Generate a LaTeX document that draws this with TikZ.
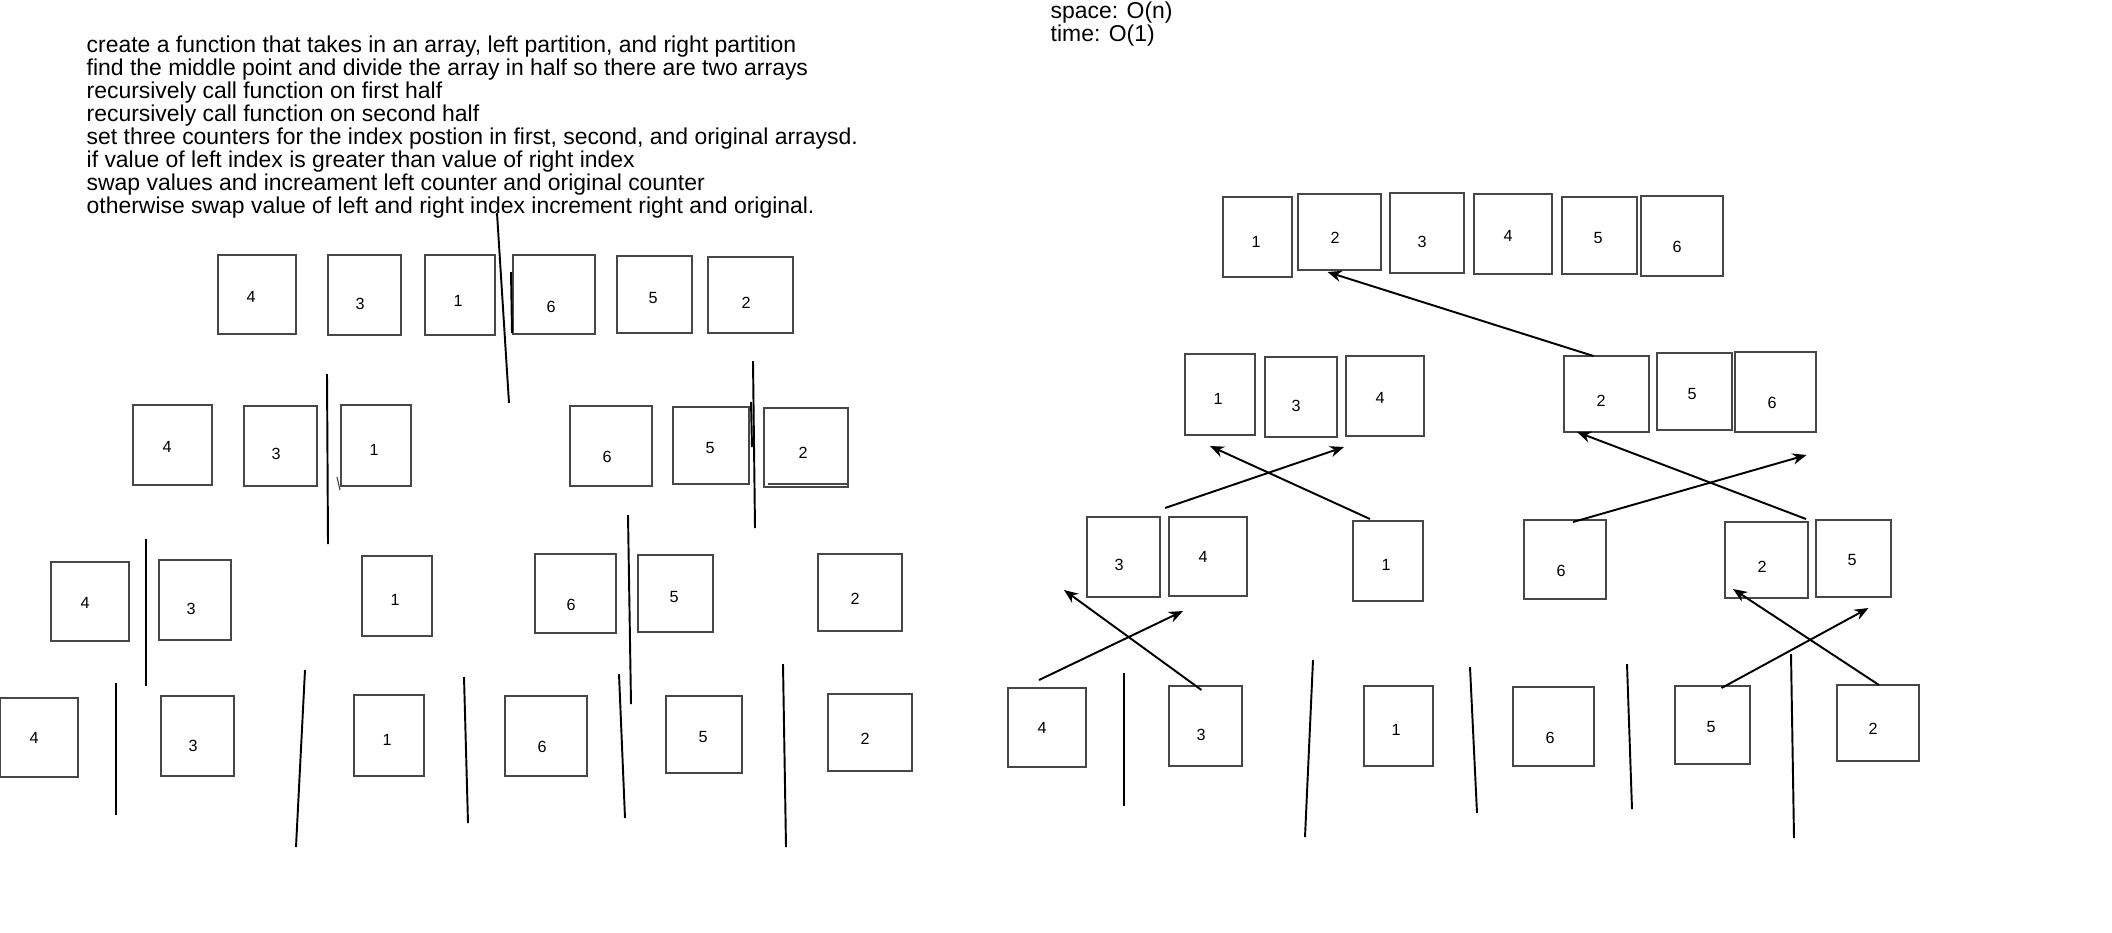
\documentclass[tikz,border=0pt]{standalone}
\usepackage{fontspec}
\setmainfont{Liberation Sans}
\usepackage{tikz}
\usetikzlibrary{
	arrows.meta,
	fit,
	calc
}

% one array cell: name, corner, corner, value, value position
\newcommand{\cell}[5]{%
	\node[cellbox, fit={(#2) (#3)}] (#1) {};
	\node[digit] (#1n) at (#5) {#4};
}

\begin{document}
\begin{tikzpicture}[x=0.01cm, y=-0.01cm,
		cellbox/.style={draw=black!72, line width=0.32pt, inner sep=0pt, outer sep=0pt},
		digit/.style={font=\fontsize{4.6pt}{5pt}\selectfont, inner sep=0pt},
		notes/.style={font=\fontsize{6.52pt}{6.52pt}\selectfont, align=left, inner sep=0pt, anchor=north west},
		divider/.style={line width=0.55pt},
		move/.style={line width=0.55pt, -{Stealth[length=4pt, width=3.2pt]}}]
	
	\useasboundingbox (0,0) rectangle (2112,932);
	
	% Notes
	\node[notes] (steps) at (86,35.5) {create a function that takes in an array, left partition, and right partition\\
		find the middle point and divide the array in half so there are two arrays\\
		recursively call function on first half\\
		recursively call function on second half\\
		set three counters for the index postion in first, second, and original arraysd.\\
		if value of left index is greater than value of right index\\
		swap values and increament left counter and original counter\\
		otherwise swap value of left and right index increment right and original.};
	\node[notes] (cost) at (1050,1.5) {space: O(n)\\time: O(1)};
	
	% Split, first row
	\cell{s1d4}{218,255}{296,334}{4}{251,297}
	\cell{s1d3}{328,255}{401,335}{3}{360,304}
	\cell{s1d1}{425,255}{495,335}{1}{458,301}
	\cell{s1d6}{513,255}{595,334}{6}{551,307}
	\cell{s1d5}{617,256}{692,333}{5}{653,298}
	\cell{s1d2}{708,257}{793,333}{2}{746,303}
	
	% Split, second row
	\cell{s2d4}{133,405}{212,485}{4}{167,447}
	\cell{s2d3}{244,406}{317,486}{3}{276,454}
	\cell{s2d1}{341,405}{411,486}{1}{374,450}
	\cell{s2d6}{570,406}{652,486}{6}{607,457}
	\cell{s2d5}{673,407}{749,484}{5}{710,448}
	\cell{s2d2}{764,408}{848,487}{2}{803,453}
	\draw[cellbox] (768,484) -- (848,484);
	
	% Split, third row
	\cell{s3d4}{51,562}{129,641}{4}{85,603}
	\cell{s3d3}{159,560}{231,640}{3}{191,609}
	\cell{s3d1}{362,556}{432,636}{1}{395,600}
	\cell{s3d6}{535,554}{616,633}{6}{571,605}
	\cell{s3d5}{638,555}{713,632}{5}{674,597}
	\cell{s3d2}{818,554}{902,631}{2}{855,599}
	
	% Split, single cells
	\cell{s4d4}{0.5,698}{78,777}{4}{34,738}
	\cell{s4d3}{161,696}{234,776}{3}{193,746}
	\cell{s4d1}{354,695}{424,776}{1}{387,740}
	\cell{s4d6}{505,696}{587,776}{6}{542,747}
	\cell{s4d5}{666,696}{742,773}{5}{703,737}
	\cell{s4d2}{828,694}{912,771}{2}{865,739}
	
	% Split lines
	\draw[divider] (497,213) -- (509,403);
	\draw[divider] (511,272) -- (512,333);
	\draw[divider] (327,374) -- (328,544);
	\draw[cellbox] (337,477) -- (340,490);
	\draw[divider] (753,361) -- (755,528);
	\draw[divider] (751,402) -- (752,447);
	\draw[divider] (146,539) -- (146,686);
	\draw[divider] (628,515) -- (631,704);
	\draw[divider] (116,683) -- (116,815);
	\draw[divider] (305,670) -- (296,847);
	\draw[divider] (464,677) -- (468,823);
	\draw[divider] (619,674) -- (625,818);
	\draw[divider] (783,664) -- (786,847);
	
	% Merge, sorted array
	\cell{m1d1}{1223,197}{1292,277}{1}{1256,242}
	\cell{m1d2}{1298,194}{1381,270}{2}{1335,238}
	\cell{m1d3}{1390,193}{1464,273}{3}{1422,242}
	\cell{m1d4}{1474,194}{1552,274}{4}{1508,236}
	\cell{m1d5}{1562,197}{1637,274}{5}{1598,238}
	\cell{m1d6}{1641,196}{1723,276}{6}{1677,247}
	
	% Merge, halves
	\cell{m2d1}{1185,354}{1255,435}{1}{1218,399}
	\cell{m2d3}{1265,357}{1337,437}{3}{1296,406}
	\cell{m2d4}{1346,356}{1424,436}{4}{1380,398}
	\cell{m2d2}{1564,356}{1649,432}{2}{1601,401}
	\cell{m2d5}{1657,353}{1732,430}{5}{1692,394}
	\cell{m2d6}{1735,352}{1816,432}{6}{1772,403}
	
	% Merge, pairs
	\cell{m3d3}{1087,517}{1160,597}{3}{1119,565}
	\cell{m3d4}{1169,517}{1247,596}{4}{1203,557}
	\cell{m3d1}{1353,521}{1423,601}{1}{1386,565}
	\cell{m3d6}{1524,520}{1606,599}{6}{1561,571}
	\cell{m3d2}{1725,522}{1808,598}{2}{1762,567}
	\cell{m3d5}{1816,520}{1891,597}{5}{1852,560}
	
	% Merge, single cells
	\cell{m4d4}{1008,688}{1086,767}{4}{1042,728}
	\cell{m4d3}{1169,686}{1242,766}{3}{1201,735}
	\cell{m4d1}{1364,686}{1433,766}{1}{1396,730}
	\cell{m4d6}{1513,687}{1594,766}{6}{1550,738}
	\cell{m4d5}{1675,686}{1750,764}{5}{1711,727}
	\cell{m4d2}{1837,685}{1919,761}{2}{1873,729}
	
	\draw[divider] (1124,673) -- (1124,806);
	\draw[divider] (1313,660) -- (1305,837);
	\draw[divider] (1470,667) -- (1477,813);
	\draw[divider] (1627,664) -- (1632,809);
	\draw[divider] (1791,654) -- (1794,838);
	
	% Merge moves
	\draw[move] ([shift={(-13,0)}]m2d2.north) -- ([shift={(-12,2)}]m1d2.south);
	\draw[move] ([shift={(5,-9)}]m3d3.north east) -- ([shift={(-2,11)}]m2d4.south west);
	\draw[move] ([shift={(-18,-2)}]m3d1.north) -- ([shift={(-10,11)}]m2d1.south);
	\draw[move] ([shift={(8,2)}]m3d6.north) -- ([shift={(31,23)}]m2d6.south);
	\draw[move] ([shift={(-2,-3)}]m3d2.north east) -- ([shift={(13,0)}]m2d2.south west);
	\draw[move] ([shift={(-8,-8)}]m4d4.north) -- ([shift={(14,15)}]m3d4.south west);
	\draw[move] ([shift={(-4,4)}]m4d3.north) -- ([shift={(-23,-7)}]m3d3.south west);
	\draw[move] ([shift={(9,2)}]m4d5.north) -- ([shift={(15,11)}]m3d5.south);
	\draw[move] ([shift={(1,0)}]m4d2.north) -- ([shift={(8,-9)}]m3d2.south west);
	
\end{tikzpicture}
\end{document}
